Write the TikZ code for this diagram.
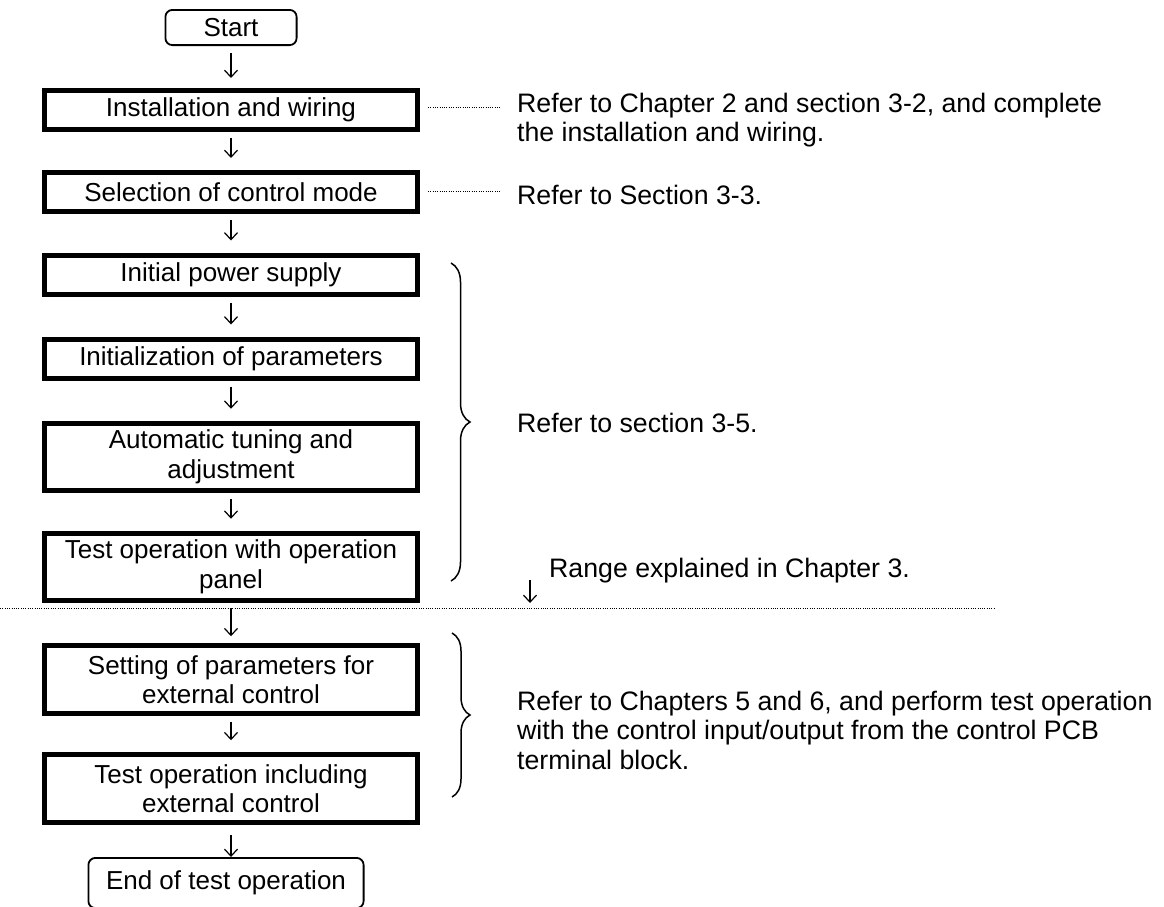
\documentclass[tikz,border=0pt]{standalone}
\usepackage{fontspec}
\setmainfont{Liberation Sans}
\usetikzlibrary{arrows.meta,decorations.pathreplacing,calc}
\begin{document}
\begin{tikzpicture}[x=1pt,y=1pt,
  txt/.style={font=\fontsize{26}{29.5}\selectfont},
  notetxt/.style={font=\fontsize{26.7}{29.5}\selectfont},
  stepbox/.style={txt, draw, line width=5pt, minimum width=373pt, inner sep=0pt, align=center},
  onebox/.style={stepbox, minimum height=39pt},
  twobox/.style={stepbox, minimum height=67.5pt},
  termbox/.style={txt, draw, line width=1.8pt, rounded corners=7pt, inner sep=0pt},
  arr/.style={line width=1.2pt, -{Straight Barb[length=7pt,width=13pt,line width=1.2pt]}, shorten <=6pt, shorten >=12pt},
  leader/.style={line width=0.9pt, dash pattern=on 0.9pt off 1.4pt},
  note/.style={notetxt, anchor=west, align=left, inner sep=0pt},
  bracestyle/.style={line width=1.5pt, decorate, decoration={brace, amplitude=19pt}}
]
\useasboundingbox (0,0) rectangle (1164,-906);
% flow nodes
\node[termbox, minimum width=131.2pt, minimum height=35.2pt] (start) at (231,-27.5) {Start};
\node[onebox] (ins) at (231,-110) {Installation and wiring};
\node[onebox] (sel) at (231,-192) {Selection of control mode};
\node[onebox] (init) at (231,-274.5) {Initial power supply};
\node[onebox] (initz) at (231,-358.5) {Initialization of parameters};
\node[twobox] (auto) at (231,-457) {Automatic tuning and\\adjustment};
\node[twobox] (panel) at (231,-567) {Test operation with operation\\panel};
\node[twobox] (setp) at (231,-679.5) {Setting of parameters for\\external control};
\node[twobox] (tinc) at (231,-788.5) {Test operation including\\external control};
\node[termbox, minimum width=275.2pt, minimum height=50.2pt] (fin) at (226,-883) {End of test operation};
% arrows
\draw[arr, shorten <=7pt, shorten >=10pt] (start) -- (ins);
\draw[arr] (ins) -- (sel);
\draw[arr] (sel) -- (init);
\draw[arr] (init) -- (initz);
\draw[arr] (initz) -- (auto);
\draw[arr] (auto) -- (panel);
\draw[arr, shorten <=5pt, shorten >=7pt] (panel) -- (setp);
\draw[arr] (setp) -- (tinc);
\draw[arr, shorten <=10pt, shorten >=0pt] (tinc.south) -- (tinc.south |- fin.north);
% notes
\node[note] (r1) at (517,-120) {Refer to Chapter 2 and section 3-2, and complete\\the installation and wiring.};
\node[note] (r2) at (517,-195) {Refer to Section 3-3.};
\node[note] (r3) at (517,-423) {Refer to section 3-5.};
\node[note] (r4) at (549,-571) {Range explained in Chapter 3.};
\node[note] (r5) at (517,-730) {Refer to Chapters 5 and 6, and perform test operation\\with the control input/output from the control PCB\\terminal block.};
% leaders
\draw[leader] ($(ins.east)+(8,3)$) -- ($(ins.east -| r1.west)+(-17,3)$);
\draw[leader] ($(sel.east)+(8,1)$) -- ($(sel.east -| r2.west)+(-17,1)$);
% braces
\coordinate (b1t) at (451,-263);
\coordinate (b1b) at (451,-581);
\coordinate (b2t) at (452,-633);
\coordinate (b2b) at (452,-797);
\draw[bracestyle] (b1t) -- (b1b);
\draw[bracestyle, decoration={brace, amplitude=18pt}] (b2t) -- (b2b);
% range line and arrow
\coordinate (hl1) at (0,-608.5);
\coordinate (hl2) at (995,-608.5);
\draw[leader] (hl1) -- (hl2);
\coordinate (rg1) at (530,-580);
\coordinate (rg2) at (530,-603);
\draw[arr, shorten <=0pt, shorten >=0pt] (rg1) -- (rg2);
\end{tikzpicture}
\end{document}
